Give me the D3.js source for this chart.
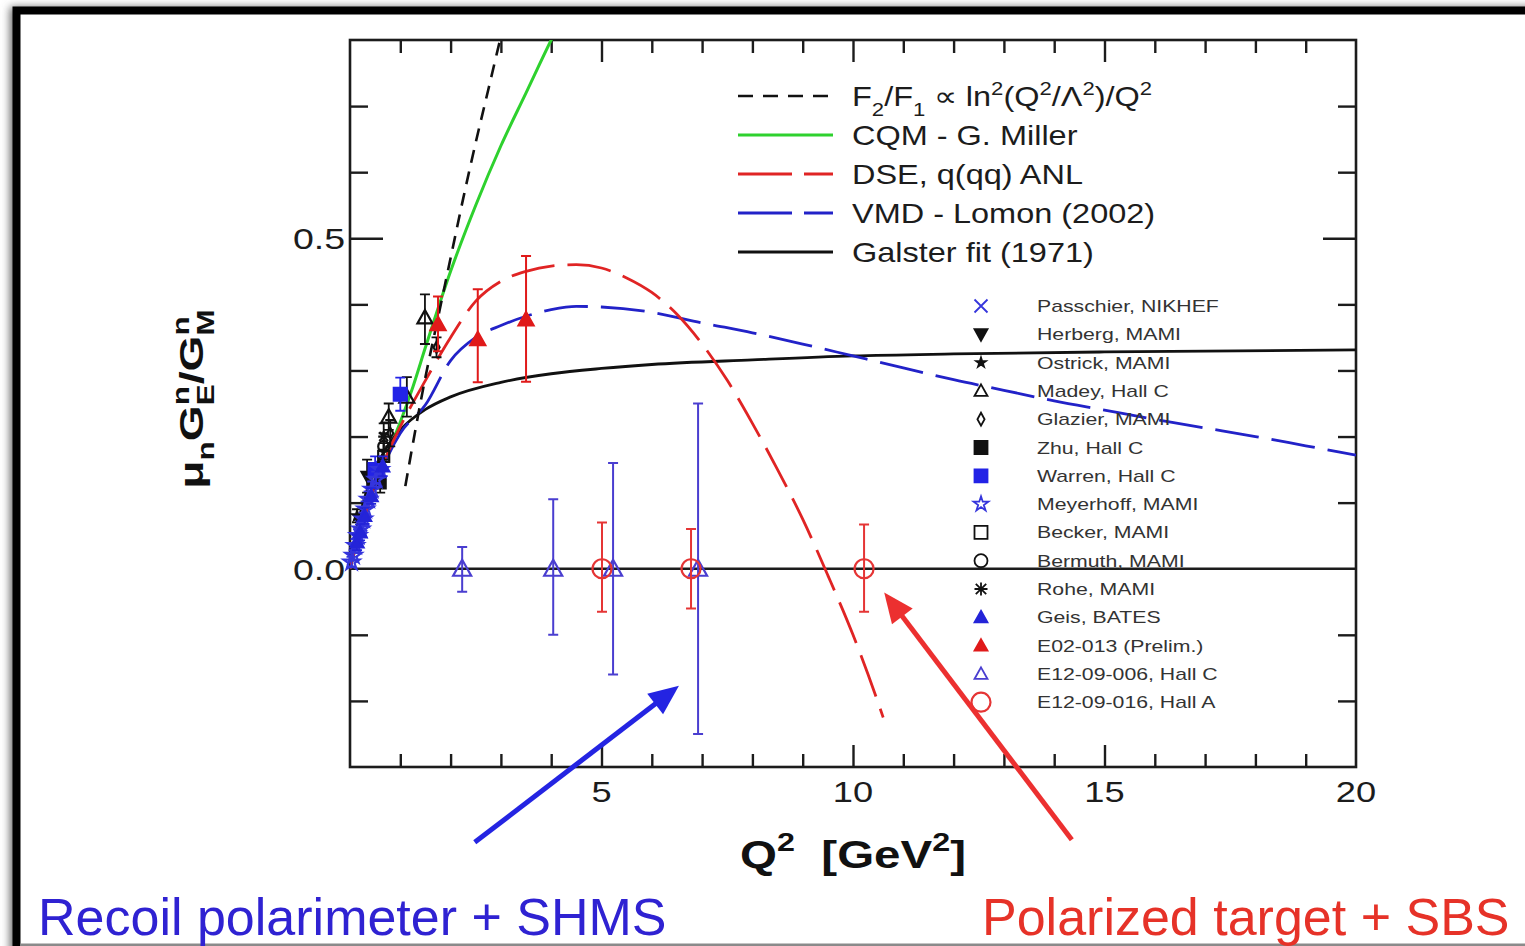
<!DOCTYPE html>
<html>
<head>
<meta charset="utf-8">
<script src="https://cdn.jsdelivr.net/npm/d3@7"></script>
<style>
  html, body { margin: 0; padding: 0; background: #fff; }
  svg { display: block; }
  text { font-family: "Liberation Sans", Arial, Helvetica, sans-serif; white-space: pre; }
</style>
</head>
<body>
<svg id="chart" width="1525" height="946"></svg>
<script>
// ---------- axes ----------
const xDomain = [0, 20];
const yDomain = [-0.3, 0.8];
const xTickLabels = [5, 10, 15, 20];
const yTickLabels = [0.0, 0.5];
const xMinorTicks = [1, 2, 3, 4, 6, 7, 8, 9, 11, 12, 13, 14, 16, 17, 18, 19];
const xMajorTicks = [5, 10, 15];
const yMinorTicks = [-0.2, -0.1, 0.1, 0.2, 0.3, 0.4, 0.6, 0.7];
const yMajorTicks = [0.5];

// ---------- theory curves (Q^2 in GeV^2, mu_n G_E/G_M) ----------
const f2f1Q2  = [1.1, 1.3, 1.5, 1.75, 2.0, 2.25, 2.5, 2.75, 3.0, 3.1];
const f2f1Val = [0.125, 0.21, 0.29, 0.38, 0.47, 0.56, 0.645, 0.725, 0.805, 0.835];

const cqmQ2  = [0, 0.25, 0.5, 0.75, 1.0, 1.25, 1.5, 2.0, 2.5, 3.0, 3.5, 4.0, 4.2];
const cqmVal = [0, 0.07, 0.125, 0.175, 0.222, 0.275, 0.335, 0.45, 0.55, 0.64, 0.72, 0.80, 0.83];

const dseQ2  = [0, 0.25, 0.5, 0.75, 1.0, 1.5, 2.0, 2.5, 3.0, 3.5, 4.0, 4.5, 5.0, 5.5, 6.0, 6.5, 7.0, 7.5, 8.0, 8.5, 9.0, 9.5, 10.0, 10.3, 10.6];
const dseVal = [0, 0.07, 0.125, 0.175, 0.215, 0.285, 0.35, 0.405, 0.435, 0.45, 0.458, 0.46, 0.455, 0.44, 0.418, 0.385, 0.34, 0.285, 0.22, 0.15, 0.075, -0.01, -0.1, -0.16, -0.225];

const vmdQ2  = [0, 0.25, 0.5, 0.75, 1.0, 1.5, 2.0, 2.5, 3.0, 3.5, 4.0, 4.5, 5, 6, 7, 8, 9, 10, 11, 12, 13, 14, 15, 16, 17, 18, 19, 20];
const vmdVal = [0, 0.07, 0.125, 0.17, 0.205, 0.248, 0.315, 0.35, 0.368, 0.382, 0.392, 0.397, 0.396, 0.388, 0.372, 0.357, 0.34, 0.322, 0.304, 0.286, 0.27, 0.254, 0.24, 0.226, 0.213, 0.2, 0.186, 0.172];

const galsterQ2  = [0, 0.1, 0.2, 0.3, 0.5, 0.7, 1.0, 1.5, 2, 3, 4, 5, 6, 8, 10, 12, 15, 20];
const galsterVal = [0, 0.047, 0.082, 0.11, 0.151, 0.18, 0.21, 0.241, 0.26, 0.282, 0.295, 0.303, 0.309, 0.316, 0.322, 0.325, 0.328, 0.331];

const curveNames = ["F2/F1", "CQM - G. Miller", "DSE, q(qq) ANL", "VMD - Lomon (2002)", "Galster fit (1971)"];

// ---------- measurements: [Q^2, value, error up, error down] ----------
const passchier = [[0.21, 0.066, 0.012, 0.012]];
const herberg   = [[0.34, 0.14, 0.025, 0.025]];
const ostrick   = [[0.14, 0.08, 0.01, 0.01]];
const madey     = [[0.77, 0.23, 0.02, 0.02], [1.13, 0.26, 0.03, 0.03], [1.49, 0.38, 0.035, 0.04]];
const glazier   = [[0.8, 0.205, 0.02, 0.02], [1.72, 0.335, 0.015, 0.015]];
const zhu       = [[0.6, 0.13, 0.015, 0.015]];
const warren    = [[0.5, 0.15, 0.02, 0.02], [1.0, 0.264, 0.025, 0.025]];
const meyerhoff = [[0.03, 0.01, 0.008, 0.008], [0.07, 0.02, 0.008, 0.008], [0.11, 0.035, 0.01, 0.01],
                   [0.16, 0.05, 0.01, 0.01], [0.22, 0.06, 0.01, 0.01], [0.27, 0.075, 0.01, 0.01],
                   [0.31, 0.09, 0.012, 0.012], [0.37, 0.105, 0.012, 0.012], [0.44, 0.12, 0.012, 0.012],
                   [0.52, 0.135, 0.012, 0.012], [0.6, 0.15, 0.012, 0.012]];
const becker    = [[0.67, 0.17, 0.02, 0.02]];
const bermuth   = [[0.67, 0.185, 0.02, 0.02]];
const rohe      = [[0.67, 0.2, 0.02, 0.02]];
const geis      = [[0.14, 0.04, 0.012, 0.012], [0.2, 0.055, 0.012, 0.012], [0.29, 0.08, 0.012, 0.012],
                   [0.42, 0.11, 0.012, 0.012], [0.65, 0.155, 0.015, 0.015]];
const e02013    = [[1.75, 0.37, 0.042, 0.041], [2.54, 0.347, 0.076, 0.065], [3.5, 0.377, 0.096, 0.094]];
const e1209006  = [[2.23, 0, 0.033, 0.035], [4.04, 0, 0.105, 0.10], [5.23, 0, 0.16, 0.16], [6.92, 0, 0.25, 0.25]];
const e1209016  = [[5.01, 0, 0.07, 0.065], [6.78, 0, 0.06, 0.06], [10.22, 0, 0.067, 0.065]];

const experimentNames = ["Passchier, NIKHEF", "Herberg, MAMI", "Ostrick, MAMI", "Madey, Hall C",
  "Glazier, MAMI", "Zhu, Hall C", "Warren, Hall C", "Meyerhoff, MAMI", "Becker, MAMI",
  "Bermuth, MAMI", "Rohe, MAMI", "Geis, BATES", "E02-013 (Prelim.)", "E12-09-006, Hall C",
  "E12-09-016, Hall A"];

// annotation arrows in data units: [tail Q^2, tail value, tip Q^2, tip value]
const arrowBlue = [2.48, -0.414, 6.54, -0.177];
const arrowRed  = [14.35, -0.41, 10.62, -0.036];

// ---------- setup ----------
const svg = d3.select("#chart");
const x = d3.scaleLinear().domain(xDomain).range([350, 1356]);
const y = d3.scaleLinear().domain(yDomain).range([767, 40]);
const INK = "#1c1c1c";

const defs = svg.append("defs");
defs.append("filter").attr("id", "soft")
  .attr("x", "-5%").attr("y", "-5%").attr("width", "110%").attr("height", "110%")
  .append("feGaussianBlur").attr("stdDeviation", 4);
defs.append("clipPath").attr("id", "plotClip").append("rect")
  .attr("x", x(0)).attr("y", y(0.8))
  .attr("width", x(20) - x(0)).attr("height", y(-0.3) - y(0.8));

// page frame with soft shadow
svg.append("rect").attr("x", 10).attr("y", 7).attr("width", 1600).attr("height", 1000)
  .attr("fill", "#666").attr("filter", "url(#soft)");
svg.append("rect").attr("x", 16.5).attr("y", 10.5).attr("width", 1600).attr("height", 1000)
  .attr("fill", "#fff").attr("stroke", "#000").attr("stroke-width", 8);
svg.append("rect").attr("x", 20).attr("y", 943.5).attr("width", 1505).attr("height", 2.5).attr("fill", "#8a8a8a");

// text helper: parts are strings or [text, "sub"|"sup", dx]
function richText(parent, px, py, parts, o) {
  const size = o.size;
  const tr = `translate(${px},${py})` + (o.rotate ? " rotate(-90)" : "") + ` scale(${o.sx || 1},1)`;
  const t = parent.append("text")
    .attr("transform", tr)
    .attr("font-size", size)
    .attr("font-weight", o.weight || "normal")
    .attr("fill", o.fill || INK)
    .attr("text-anchor", o.anchor || "start");
  let cur = 0;
  const subShift = o.subShift != null ? o.subShift : 0.25;
  const supShift = o.supShift != null ? o.supShift : 0.42;
  (Array.isArray(parts) ? parts : [parts]).forEach(p => {
    const [s, kind, dx] = typeof p === "string" ? [p, "n", 0] : p;
    const target = kind === "sup" ? -supShift * size : kind === "sub" ? subShift * size : 0;
    const ts = t.append("tspan")
      .attr("dy", (target - cur).toFixed(2))
      .attr("font-size", kind === "n" ? size : size * (o.small || 0.68))
      .text(s);
    if (dx) ts.attr("dx", dx);
    cur = target;
  });
  return t;
}

// ---------- axes ----------
const axesG = svg.append("g");
function styleAxis(g) {
  g.select(".domain").remove();
  g.selectAll("line").attr("stroke", INK).attr("stroke-width", 2.4);
}
axesG.append("g").attr("transform", `translate(0,${y(-0.3)})`)
  .call(d3.axisTop(x).tickValues(xMinorTicks).tickSize(13).tickFormat("")).call(styleAxis);
axesG.append("g").attr("transform", `translate(0,${y(-0.3)})`)
  .call(d3.axisTop(x).tickValues(xMajorTicks).tickSize(22).tickFormat("")).call(styleAxis);
axesG.append("g").attr("transform", `translate(0,${y(0.8)})`)
  .call(d3.axisBottom(x).tickValues(xMinorTicks).tickSize(13).tickFormat("")).call(styleAxis);
axesG.append("g").attr("transform", `translate(0,${y(0.8)})`)
  .call(d3.axisBottom(x).tickValues(xMajorTicks).tickSize(22).tickFormat("")).call(styleAxis);
axesG.append("g").attr("transform", `translate(${x(0)},0)`)
  .call(d3.axisRight(y).tickValues(yMinorTicks).tickSize(18).tickFormat("")).call(styleAxis);
axesG.append("g").attr("transform", `translate(${x(0)},0)`)
  .call(d3.axisRight(y).tickValues(yMajorTicks).tickSize(33).tickFormat("")).call(styleAxis);
axesG.append("g").attr("transform", `translate(${x(20)},0)`)
  .call(d3.axisLeft(y).tickValues(yMinorTicks).tickSize(18).tickFormat("")).call(styleAxis);
axesG.append("g").attr("transform", `translate(${x(20)},0)`)
  .call(d3.axisLeft(y).tickValues(yMajorTicks).tickSize(33).tickFormat("")).call(styleAxis);

// zero line and plot frame
axesG.append("line").attr("x1", x(0)).attr("x2", x(20)).attr("y1", y(0)).attr("y2", y(0))
  .attr("stroke", INK).attr("stroke-width", 2.4);
axesG.append("rect").attr("x", x(0)).attr("y", y(0.8))
  .attr("width", x(20) - x(0)).attr("height", y(-0.3) - y(0.8))
  .attr("fill", "none").attr("stroke", INK).attr("stroke-width", 2.6);

// tick labels
xTickLabels.forEach(v => richText(axesG, x(v), y(-0.3) + 35, String(v), { size: 29, sx: 1.25, anchor: "middle" }));
yTickLabels.forEach(v => richText(axesG, x(0) - 5, y(v) + 11, v.toFixed(1), { size: 30, sx: 1.25, anchor: "end" }));

// axis titles
richText(svg, x(10), 868, ["Q", ["2", "sup"], "  [GeV", ["2", "sup"], "]"],
  { size: 38, sx: 1.25, anchor: "middle", weight: "bold", fill: "#111", supShift: 0.45 });
const ySize = 34;
const nw = 0.611 * 0.68 * ySize;
richText(svg, 203, 399, ["μ", ["n", "sub"], "G", ["n", "sup"], ["E", "sub", -nw], "/", "G", ["n", "sup"], ["M", "sub", -nw]],
  { size: ySize, sx: 1.36, anchor: "middle", weight: "bold", fill: "#111", rotate: true, subShift: 0.32, supShift: 0.42 });

// ---------- theory curves ----------
const curves = [
  { q2: f2f1Q2, val: f2f1Val, color: "#111", dash: "13,9", width: 2.6 },
  { q2: cqmQ2, val: cqmVal, color: "#2ed12e", dash: null, width: 3 },
  { q2: dseQ2, val: dseVal, color: "#e02424", dash: "44,13", width: 2.8 },
  { q2: vmdQ2, val: vmdVal, color: "#2222c8", dash: "44,13", width: 2.8 },
  { q2: galsterQ2, val: galsterVal, color: "#111", dash: null, width: 2.8 }
];
const line = d3.line().x(d => x(d[0])).y(d => y(d[1])).curve(d3.curveMonotoneX);
const curveG = svg.append("g").attr("clip-path", "url(#plotClip)");
// solid curves first, dashed ones on top
[1, 4, 3, 2, 0].forEach(i => {
  const c = curves[i];
  curveG.append("path").datum(d3.zip(c.q2, c.val))
    .attr("d", line).attr("fill", "none")
    .attr("stroke", c.color).attr("stroke-width", c.width)
    .attr("stroke-dasharray", c.dash).attr("stroke-linecap", "butt");
});

// ---------- markers ----------
const markerStyle = {
  passchier: { shape: "times", color: "#3535dc", fill: false },
  herberg:   { shape: "triDown", color: "#111", fill: true },
  ostrick:   { shape: "starSmall", color: "#111", fill: true },
  madey:     { shape: "tri", color: "#111", fill: false },
  glazier:   { shape: "diamond", color: "#111", fill: false },
  zhu:       { shape: "square", color: "#111", fill: true },
  warren:    { shape: "square", color: "#2323e6", fill: true },
  meyerhoff: { shape: "star", color: "#3535dc", fill: false },
  becker:    { shape: "square", color: "#111", fill: false },
  bermuth:   { shape: "circle", color: "#111", fill: false },
  rohe:      { shape: "asterisk", color: "#111", fill: false },
  geis:      { shape: "tri", color: "#2424d8", fill: true },
  e02013:    { shape: "tri", color: "#e01a1a", fill: true },
  e1209006:  { shape: "tri", color: "#4a3ed0", fill: false },
  e1209016:  { shape: "circle", color: "#e53535", fill: false }
};
const seriesOrder = ["passchier", "herberg", "ostrick", "madey", "glazier", "zhu", "warren",
  "meyerhoff", "becker", "bermuth", "rohe", "geis", "e02013", "e1209006", "e1209016"];
const seriesData = { passchier, herberg, ostrick, madey, glazier, zhu, warren, meyerhoff,
  becker, bermuth, rohe, geis, e02013, e1209006, e1209016 };

function markerPath(shape, h) {
  switch (shape) {
    case "tri": return `M0,${-h}L${h},${h * 0.78}L${-h},${h * 0.78}Z`;
    case "triDown": return `M0,${h}L${h},${-h * 0.78}L${-h},${-h * 0.78}Z`;
    case "square": return `M${-h},${-h}H${h}V${h}H${-h}Z`;
    case "diamond": return `M0,${-h}L${h * 0.55},0L0,${h}L${-h * 0.55},0Z`;
    case "circle": return d3.arc()({ innerRadius: 0, outerRadius: h, startAngle: 0, endAngle: 2 * Math.PI });
    case "times": return `M${-h},${-h}L${h},${h}M${h},${-h}L${-h},${h}`;
    case "asterisk": return `M${-h * 0.8},${-h * 0.8}L${h * 0.8},${h * 0.8}M${h * 0.8},${-h * 0.8}L${-h * 0.8},${h * 0.8}M0,${-h}V${h}M${-h},0H${h}`;
    case "star": return d3.symbol(d3.symbolStar, h * h * 1.6)();
    case "starSmall": return d3.symbol(d3.symbolStar, h * h * 0.8)();
  }
}
function drawMarker(g, key, cx, cy, h, sw) {
  const st = markerStyle[key];
  const open = !st.fill;
  g.append("path").attr("d", markerPath(st.shape, h))
    .attr("transform", `translate(${cx},${cy})`)
    .attr("fill", open ? "none" : st.color)
    .attr("stroke", st.color).attr("stroke-width", sw || 2);
}

const pointSize = { e1209006: 9, e1209016: 9.5, e02013: 7.5, madey: 7.5, meyerhoff: 7, geis: 6.5, passchier: 6.5, warren: 6.5 };
const barWidth = { e1209006: 2, e1209016: 2, e02013: 2 };
const dataG = svg.append("g");
seriesOrder.forEach(key => {
  const st = markerStyle[key];
  const h = pointSize[key] || 5.5;
  seriesData[key].forEach(([q, v, eu, ed]) => {
    const cx = x(q), y1 = y(v + eu), y2 = y(v - ed);
    const bw = barWidth[key] || 1.8;
    dataG.append("path")
      .attr("d", `M${cx},${y1}V${y2}M${cx - 5},${y1}H${cx + 5}M${cx - 5},${y2}H${cx + 5}`)
      .attr("fill", "none").attr("stroke", st.color).attr("stroke-width", bw);
    drawMarker(dataG, key, cx, y(v), h, key.startsWith("e12") ? 2.2 : 2.2);
  });
});

// ---------- theory legend ----------
const legG = svg.append("g");
const legRows = [96, 135, 174, 213, 252];
curves.forEach((c, i) => {
  legG.append("line").attr("x1", 738).attr("x2", 833).attr("y1", legRows[i]).attr("y2", legRows[i])
    .attr("stroke", c.color).attr("stroke-width", c.width)
    .attr("stroke-dasharray", i === 0 ? "15,10" : c.dash ? "54,12" : null);
});
richText(legG, 852, legRows[0] + 10,
  ["F", ["2", "sub"], "/F", ["1", "sub"], " ∝ ln", ["2", "sup"], "(Q", ["2", "sup"], "/Λ", ["2", "sup"], ")/Q", ["2", "sup"]],
  { size: 28, sx: 1.16, subShift: 0.35, supShift: 0.4 });
curveNames.slice(1).forEach((n, i) => richText(legG, 852, legRows[i + 1] + 10, n, { size: 28, sx: 1.16 }));

// ---------- experiment legend ----------
experimentNames.forEach((n, i) => {
  const cy = 306 + i * 28.3;
  const key = seriesOrder[i];
  const h = key === "e1209016" ? 9.5 : key === "ostrick" ? 6 : 6.5;
  drawMarker(legG, key, 981, cy, h, key === "e1209016" ? 2.2 : 1.8);
  richText(legG, 1037, cy + 6, n, { size: 17, sx: 1.25, fill: "#333" });
});

// ---------- annotations ----------
function arrow(a, color) {
  const [q0, v0, q1, v1] = a;
  const x0 = x(q0), y0 = y(v0), x1 = x(q1), y1 = y(v1);
  const ang = Math.atan2(y1 - y0, x1 - x0);
  const L = 30, W = 13;
  const bx = x1 - L * Math.cos(ang), by = y1 - L * Math.sin(ang);
  svg.append("line").attr("x1", x0).attr("y1", y0).attr("x2", bx + 2 * Math.cos(ang)).attr("y2", by + 2 * Math.sin(ang))
    .attr("stroke", color).attr("stroke-width", 5);
  const px = -Math.sin(ang), py = Math.cos(ang);
  svg.append("path")
    .attr("d", `M${x1},${y1}L${bx + W * px},${by + W * py}L${bx - W * px},${by - W * py}Z`)
    .attr("fill", color);
}
arrow(arrowBlue, "#2424e2");
arrow(arrowRed, "#ec3030");

richText(svg, 38, 935, "Recoil polarimeter + SHMS", { size: 52, fill: "#2f22d2" });
richText(svg, 982, 935, "Polarized target + SBS", { size: 52, fill: "#e63228" });
</script>
</body>
</html>
